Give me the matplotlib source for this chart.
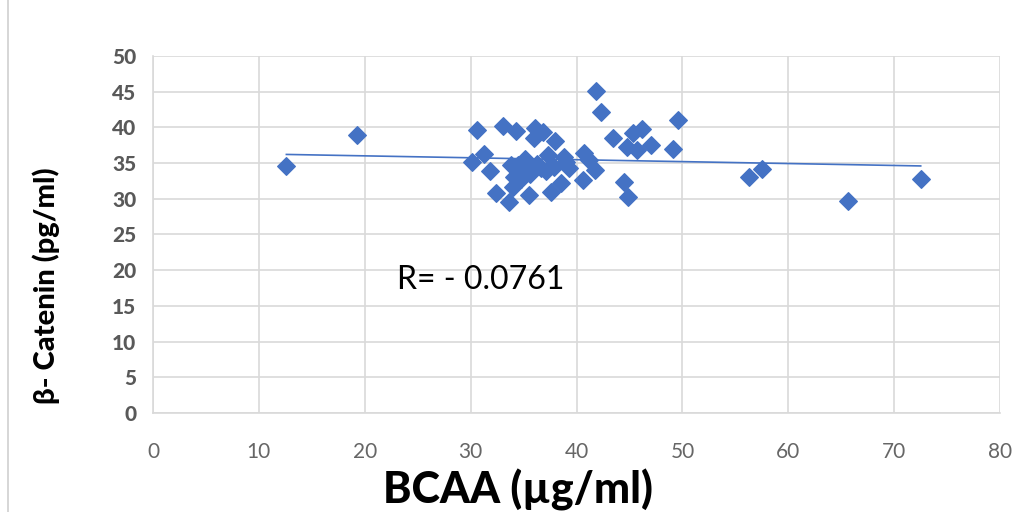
import matplotlib.pyplot as plt
import numpy as np
from matplotlib.patches import Rectangle

plt.rcParams['font.family'] = ['Lato', 'DejaVu Sans']

# BCAA (ug/ml) vs beta-catenin (pg/ml)
bcaa = [12.6, 19.3, 30.1, 30.6, 31.3, 31.8, 32.4, 33.1, 33.6, 34.0, 34.3,
        34.1, 33.8, 34.5, 35.1, 35.5, 35.7, 36.1, 36.0, 36.6, 36.8, 37.3,
        37.6, 37.9, 38.0, 38.5, 38.8, 39.3, 40.6, 40.7, 41.2, 41.7, 41.8,
        42.3, 43.4, 44.5, 44.9, 44.8, 45.3, 45.7, 46.2, 47.0, 49.1, 49.6,
        35.0, 35.6, 36.3, 37.1, 34.8, 39.0,
        56.3, 57.5, 65.6, 72.5]
catenin = [34.6, 38.9, 35.2, 39.6, 36.3, 33.9, 30.8, 40.2, 29.5, 31.7, 39.5,
           33.1, 34.7, 34.7, 35.6, 30.5, 34.3, 39.9, 38.5, 34.3, 39.4, 36.1,
           30.9, 34.5, 38.1, 32.2, 35.9, 34.3, 32.6, 36.4, 35.4, 34.0, 45.1,
           42.2, 38.5, 32.4, 30.3, 37.3, 39.2, 36.8, 39.7, 37.5, 37.0, 41.0,
           33.6, 33.5, 34.8, 33.9, 32.8, 35.2,
           33.0, 34.2, 29.7, 32.8]

x_ticks = list(range(0, 81, 10))
y_ticks = list(range(0, 51, 5))

blue = '#4472C4'

fig = plt.figure(figsize=(10.3, 5.12), dpi=100)
ax = fig.add_axes([0.1485, 0.193, 0.8225, 0.698])

ax.scatter(bcaa, catenin, marker='D', s=80, color=blue, zorder=3)

# linear trendline
k, b = np.polyfit(bcaa, catenin, 1)
xs = np.array([min(bcaa), max(bcaa)])
ax.plot(xs, k * xs + b, color=blue, lw=1.2, zorder=2)

ax.set_xlim(0, 80)
ax.set_ylim(0, 50)
ax.set_xticks(x_ticks)
ax.set_yticks(y_ticks)
ax.grid(True, color='#d9d9d9', lw=1.2, zorder=0)
ax.set_axisbelow(True)
for s in ['top', 'right']:
    ax.spines[s].set_visible(False)
for s in ['left', 'bottom']:
    ax.spines[s].set_color('#d9d9d9')
    ax.spines[s].set_linewidth(1.2)
ax.tick_params(length=0)
ax.tick_params(axis='x', pad=21, labelsize=15, labelcolor='#666666')
ax.tick_params(axis='y', pad=12, labelsize=15, labelcolor='#595959')
for t in ax.get_yticklabels():
    t.set_fontweight('black')

ax.set_xlabel('BCAA (µg/ml)', fontsize=31, fontweight='black')
ax.xaxis.set_label_coords(0.431, -0.155)
ax.set_ylabel('β- Catenin (pg/ml)', fontsize=21, fontweight='black')
ax.yaxis.set_label_coords(-0.11, 0.358)

ax.text(23.0, 18.7, 'R= - 0.0761', fontsize=23, va='center', ha='left')

fig.patches.append(Rectangle((0.008, -0.01), 1.0, 1.02, transform=fig.transFigure,
                             fill=False, edgecolor='#d0d0d0', lw=1.2))

fig.savefig('out.png', dpi=100)
